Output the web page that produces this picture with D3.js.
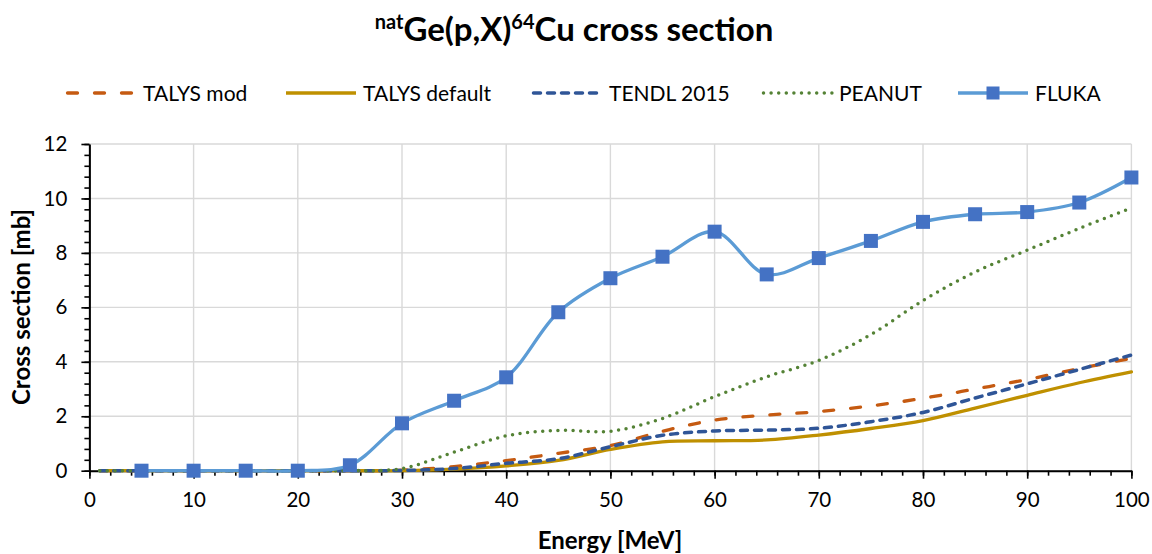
<!DOCTYPE html>
<html>
<head>
<meta charset="utf-8">
<script src="https://cdn.jsdelivr.net/npm/d3@7"></script>
<style>
  body { margin: 0; background: #fff; }
  svg { display: block; font-family: Lato, "Open Sans", sans-serif; }
</style>
</head>
<body>
<div id="chart"></div>
<script>
// Energy grid (MeV) shared by the model curves
const energy = [1, 5, 10, 15, 20, 25, 30, 35, 40, 45, 50, 55, 60, 65, 70, 75, 80, 85, 90, 95, 100];
const talysMod = [0, 0, 0, 0, 0, 0, 0.02, 0.15, 0.37, 0.64, 0.92, 1.45, 1.86, 2.04, 2.17, 2.38, 2.66, 3.0, 3.35, 3.75, 4.13];
const talysDefault = [0, 0, 0, 0, 0, 0, 0, 0.06, 0.18, 0.38, 0.78, 1.06, 1.10, 1.13, 1.31, 1.55, 1.84, 2.3, 2.77, 3.23, 3.63];
const tendl = [0, 0, 0, 0, 0, 0, 0.01, 0.08, 0.27, 0.44, 0.88, 1.30, 1.46, 1.49, 1.56, 1.80, 2.14, 2.67, 3.19, 3.72, 4.25];
const peanut = [0, 0, 0, 0, 0, 0, 0.08, 0.68, 1.28, 1.48, 1.45, 1.92, 2.72, 3.45, 4.05, 5.0, 6.25, 7.3, 8.1, 8.9, 9.65];

// FLUKA has its own points (every 5 MeV, from 5 MeV)
const flukaEnergy = [5, 10, 15, 20, 25, 30, 35, 40, 45, 50, 55, 60, 65, 70, 75, 80, 85, 90, 95, 100];
const fluka = [0, 0, 0, 0, 0.2, 1.74, 2.57, 3.43, 5.82, 7.07, 7.86, 8.78, 7.21, 7.81, 8.44, 9.14, 9.42, 9.50, 9.85, 10.77];

const xTicks = [0, 10, 20, 30, 40, 50, 60, 70, 80, 90, 100];
const yTicks = [0, 2, 4, 6, 8, 10, 12];

const series = [
  { name: "TALYS mod", x: energy, y: talysMod, color: "#C55A11", width: 3.3, dash: "10,17" },
  { name: "TALYS default", x: energy, y: talysDefault, color: "#BF9000", width: 3.3, dash: null },
  { name: "TENDL 2015", x: energy, y: tendl, color: "#2F5597", width: 3.5, dash: "7,7" },
  { name: "PEANUT", x: energy, y: peanut, color: "#548235", width: 3.5, dash: "0,7.6" },
  { name: "FLUKA", x: flukaEnergy, y: fluka, color: "#5B9BD5", width: 3.3, dash: null, marker: "#4472C4" }
];

const W = 1152, H = 554;
const margin = { top: 144, right: 20.6, bottom: 83.3, left: 89.4 };
const width = W - margin.left - margin.right;
const height = H - margin.top - margin.bottom;

const svg = d3.select("#chart").append("svg")
  .attr("width", W)
  .attr("height", H);

// Title with superscripts
const title = svg.append("text")
  .attr("x", 574)
  .attr("y", 41)
  .attr("text-anchor", "middle")
  .style("font-size", "33px")
  .style("font-weight", "bold")
  .attr("fill", "#000");
title.append("tspan").text("nat").attr("dy", "-12").style("font-size", "20px");
title.append("tspan").text("Ge(p,X)").attr("dy", "12");
title.append("tspan").text("64").attr("dy", "-12").style("font-size", "20px");
title.append("tspan").text("Cu cross section").attr("dy", "12");

const g = svg.append("g")
  .attr("transform", `translate(${margin.left},${margin.top})`);

const x = d3.scaleLinear().domain([0, 100]).range([0, width]);
const y = d3.scaleLinear().domain([0, 12]).range([height, 0]);

// Gridlines
g.append("g")
  .selectAll("line")
  .data(yTicks)
  .join("line")
  .attr("x1", 0).attr("x2", width)
  .attr("y1", d => y(d)).attr("y2", d => y(d))
  .attr("stroke", "#D9D9D9").attr("stroke-width", 1.4);

g.append("g")
  .selectAll("line")
  .data(xTicks)
  .join("line")
  .attr("x1", d => x(d)).attr("x2", d => x(d))
  .attr("y1", 0).attr("y2", height)
  .attr("stroke", "#D9D9D9").attr("stroke-width", 1.4);

// Minor ticks
g.append("g")
  .attr("transform", `translate(0,${height})`)
  .call(d3.axisBottom(x).tickValues(d3.range(0, 101, 2)).tickSize(5).tickFormat(""))
  .call(a => a.select(".domain").remove())
  .call(a => a.selectAll(".tick line").attr("stroke", "#000").attr("stroke-width", 1.6));

g.append("g")
  .call(d3.axisLeft(y).tickValues(d3.range(0, 12.01, 0.4)).tickSize(5).tickFormat(""))
  .call(a => a.select(".domain").remove())
  .call(a => a.selectAll(".tick line").attr("stroke", "#000").attr("stroke-width", 1.6));

// Major axes
g.append("g")
  .attr("transform", `translate(0,${height})`)
  .call(d3.axisBottom(x).tickValues(xTicks).tickSize(8).tickSizeOuter(0).tickPadding(14))
  .call(a => a.select(".domain").attr("stroke", "#000").attr("stroke-width", 2))
  .call(a => a.selectAll(".tick line").attr("stroke", "#000").attr("stroke-width", 1.6))
  .call(a => a.selectAll(".tick text").attr("fill", "#000").style("font-size", "20.5px").style("font-family", "Lato, sans-serif"));

g.append("g")
  .call(d3.axisLeft(y).tickValues(yTicks).tickSize(8).tickSizeOuter(0).tickPadding(14))
  .call(a => a.select(".domain").attr("stroke", "#000").attr("stroke-width", 2))
  .call(a => a.selectAll(".tick line").attr("stroke", "#000").attr("stroke-width", 1.6))
  .call(a => a.selectAll(".tick text").attr("fill", "#000").style("font-size", "20.5px").style("font-family", "Lato, sans-serif"));

// Axis titles
svg.append("text")
  .attr("x", 610)
  .attr("y", 549)
  .attr("text-anchor", "middle")
  .style("font-size", "24px")
  .style("font-weight", "bold")
  .text("Energy [MeV]");

svg.append("text")
  .attr("transform", "translate(30,307) rotate(-90)")
  .attr("text-anchor", "middle")
  .style("font-size", "24px")
  .style("font-weight", "bold")
  .text("Cross section [mb]");

// Curves (smoothed like the spreadsheet lines)
const line = d3.line()
  .x(d => x(d[0]))
  .y(d => y(d[1]))
  .curve(d3.curveCatmullRom.alpha(0.5));

series.forEach(s => {
  const pts = s.x.map((e, i) => [e, s.y[i]]);
  g.append("path")
    .datum(pts)
    .attr("fill", "none")
    .attr("stroke", s.color)
    .attr("stroke-width", s.width)
    .attr("stroke-linecap", "round")
    .attr("stroke-linejoin", "round")
    .attr("stroke-dasharray", s.dash)
    .attr("d", line);

  if (s.marker) {
    g.selectAll(null)
      .data(pts)
      .join("rect")
      .attr("x", d => x(d[0]) - 7)
      .attr("y", d => y(d[1]) - 7)
      .attr("width", 14)
      .attr("height", 14)
      .attr("fill", s.marker);
  }
});

// Legend
const legendX = [66, 286, 532, 762, 958];
const legend = svg.append("g").attr("transform", "translate(0,93)");
series.forEach((s, i) => {
  const item = legend.append("g").attr("transform", `translate(${legendX[i]},0)`);
  item.append("line")
    .attr("x1", s.dash ? 1.5 : 0).attr("x2", 70)
    .attr("y1", 0).attr("y2", 0)
    .attr("stroke", s.color)
    .attr("stroke-width", s.width)
    .attr("stroke-linecap", s.dash ? "round" : "butt")
    .attr("stroke-dasharray", s.dash);
  if (s.marker) {
    item.append("rect")
      .attr("x", 35 - 6.5).attr("y", -6.5)
      .attr("width", 13).attr("height", 13)
      .attr("fill", s.marker);
  }
  item.append("text")
    .attr("x", 77)
    .attr("y", 0)
    .attr("dy", "0.36em")
    .style("font-size", "21px")
    .attr("fill", "#000")
    .text(s.name);
});
</script>
</body>
</html>
